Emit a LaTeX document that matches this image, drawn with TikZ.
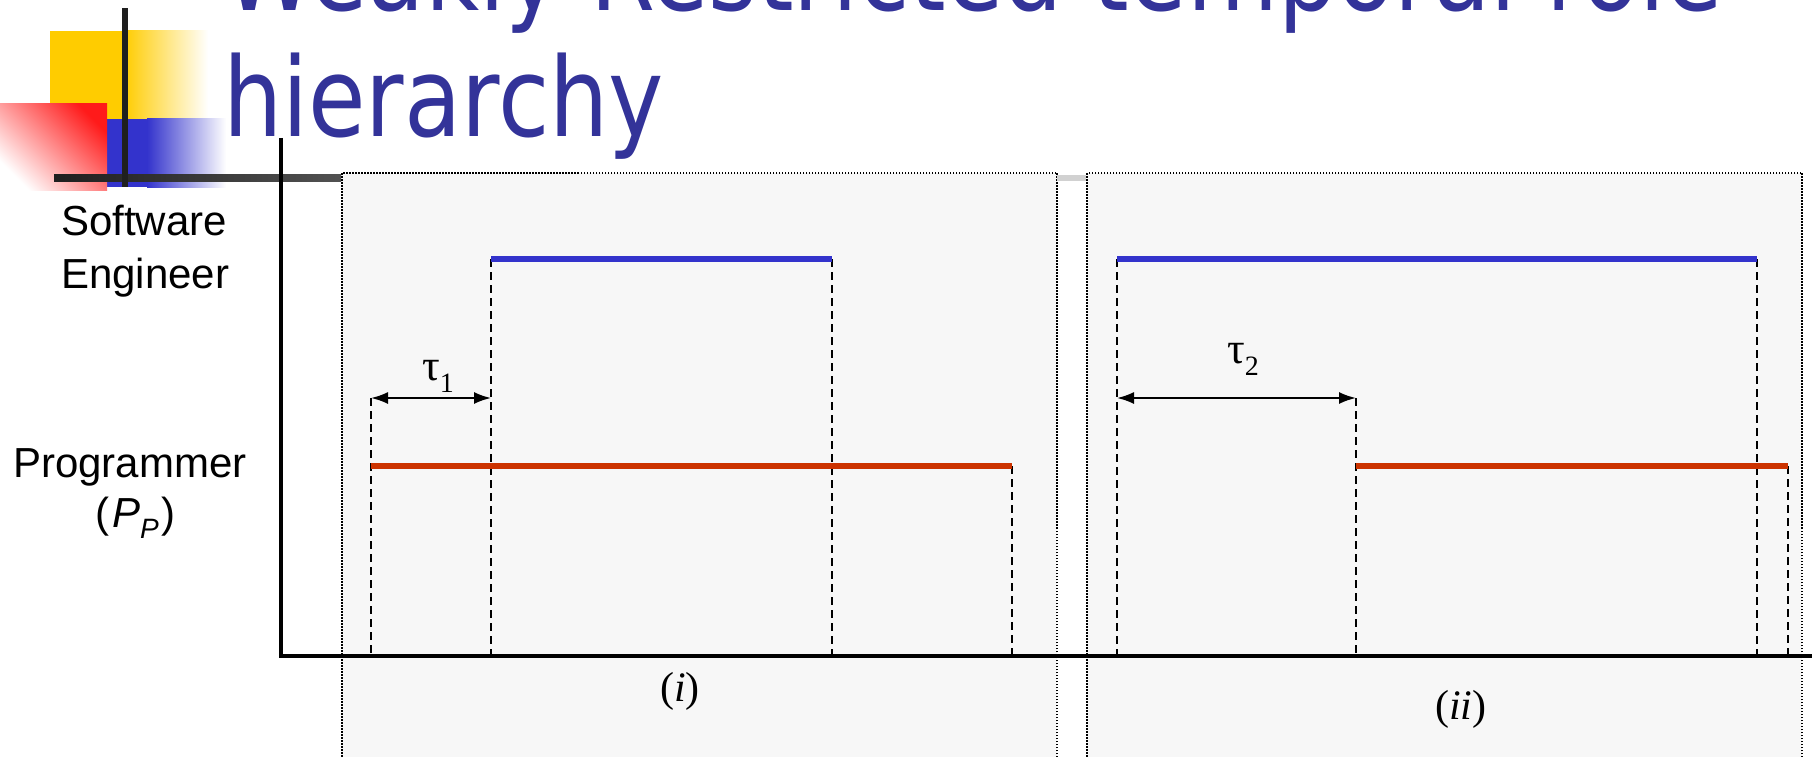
\documentclass[tikz,border=0pt]{standalone}
\usepackage{fontspec}
\setmainfont{Liberation Serif}
\newfontfamily\labelfont{Liberation Sans}
\newfontfamily\titlefont{DejaVu Sans}
\usetikzlibrary{arrows.meta}
\definecolor{titleblue}{HTML}{333399}
\definecolor{lineblue}{HTML}{3333CC}
\definecolor{linered}{HTML}{CC3300}
\definecolor{panelgray}{HTML}{F7F7F7}
\definecolor{logoyellow}{HTML}{FFCC00}
\definecolor{logored}{HTML}{FF1A1A}
\definecolor{logoblue}{HTML}{3333CC}
\begin{document}
\begin{tikzpicture}[x=1pt,y=-1pt,
  panel/.style={fill=panelgray, draw=black, line width=1.5pt, dash pattern=on 1.5pt off 1.5pt},
  guide/.style={draw=black, line width=2pt, dash pattern=on 8pt off 5pt},
  blueline/.style={draw=lineblue, line width=5.5pt},
  redline/.style={draw=linered, line width=5.5pt},
  axisline/.style={draw=black, line width=4pt},
  span/.style={draw=black, line width=2pt, {Latex[length=17pt,width=12pt]}-{Latex[length=17pt,width=12pt]}},
  rolelabel/.style={font=\labelfont\fontsize{42}{50}\selectfont, inner sep=0pt, anchor=base west},
  taulabel/.style={font=\fontsize{44}{44}\selectfont, inner sep=0pt, anchor=base west},
  caselabel/.style={font=\fontsize{42}{42}\selectfont, inner sep=0pt, anchor=base west},
  titletext/.style={font=\titlefont\fontsize{110}{110}\selectfont, text=titleblue, inner sep=0pt, anchor=base west},
]
\useasboundingbox (0,0) rectangle (1812,757);
\clip (0,0) rectangle (1812,757);

% title
\node[titletext] (t1) at (223,11) {\scalebox{0.85}[1]{Weakly Restricted temporal role}};
\node[titletext] (t2) at (223,136) {\scalebox{0.85}[1]{hierarchy}};

% logo
\fill[logoyellow] (50,31) rectangle (124,119);
\shade[left color=logoyellow, right color=white] (124,31) rectangle (208,119);
\fill[logoblue] (107,119) rectangle (147,187);
\shade[left color=logoblue, right color=white] (147,119) rectangle (226,187);
\shade[top color=logored, bottom color=white, shading angle=-45] (0,104) rectangle (107,190);
\shade[left color=black!88, right color=black!68] (54,174) rectangle (341,181);
\fill[black!88] (122,8) rectangle (128,187);

% panels
\draw[panel] (342,173) rectangle (1057,775);
\draw[panel] (1087,173) rectangle (1802,775);
\fill[black!18] (1057,174.5) rectangle (1086,181);

% axes
\coordinate (ytop) at (281,138);
\coordinate (origin) at (281,656);
\coordinate (xend) at (1812,656);
\draw[axisline] (ytop) -- (origin) -- (xend);

% role labels
\node[rolelabel] (se1) at (61,235) {Software};
\node[rolelabel] (se2) at (61,288) {Engineer};
\node[rolelabel] (pr1) at (13,477) {Programmer};
\node[rolelabel] (pr2) at (95,527) {(\hspace{3pt}\textit{P}\raisebox{-11pt}{\fontsize{28}{28}\selectfont\itshape P}\hspace{3pt})};

% panel (i)
\coordinate (a1) at (371,398);  \coordinate (a1b) at (371,656);
\coordinate (b1) at (491,259);  \coordinate (b1b) at (491,656);
\coordinate (c1) at (832,259);  \coordinate (c1b) at (832,656);
\coordinate (d1) at (1012,466); \coordinate (d1b) at (1012,656);
\coordinate (r1) at (371,466);
\coordinate (ar1) at (491,398);
\draw[guide] (a1) -- (a1b);
\draw[guide] (b1) -- (b1b);
\draw[guide] (c1) -- (c1b);
\draw[guide] (d1) -- (d1b);
\draw[blueline] (b1) -- (c1);
\draw[redline] (r1) -- (d1);
\draw[span] (a1) -- (ar1);
\node[taulabel] (tau1) at (422,380) {τ\raisebox{-12pt}{\fontsize{28}{28}\selectfont 1}};
\node[caselabel] (case1) at (660,701) {(\textit{i})};

% panel (ii)
\coordinate (a2) at (1117,259);  \coordinate (a2b) at (1117,656);
\coordinate (b2) at (1356,398);  \coordinate (b2b) at (1356,656);
\coordinate (c2) at (1757,259);  \coordinate (c2b) at (1757,656);
\coordinate (d2) at (1788,466);  \coordinate (d2b) at (1788,656);
\coordinate (r2) at (1356,466);
\coordinate (al2) at (1117,398);
\draw[guide] (a2) -- (a2b);
\draw[guide] (b2) -- (b2b);
\draw[guide] (c2) -- (c2b);
\draw[guide] (d2) -- (d2b);
\draw[blueline] (a2) -- (c2);
\draw[redline] (r2) -- (d2);
\draw[span] (al2) -- (b2);
\node[taulabel] (tau2) at (1227,363) {τ\raisebox{-12pt}{\fontsize{28}{28}\selectfont 2}};
\node[caselabel] (case2) at (1435,719) {(\textit{ii})};
\end{tikzpicture}
\end{document}
